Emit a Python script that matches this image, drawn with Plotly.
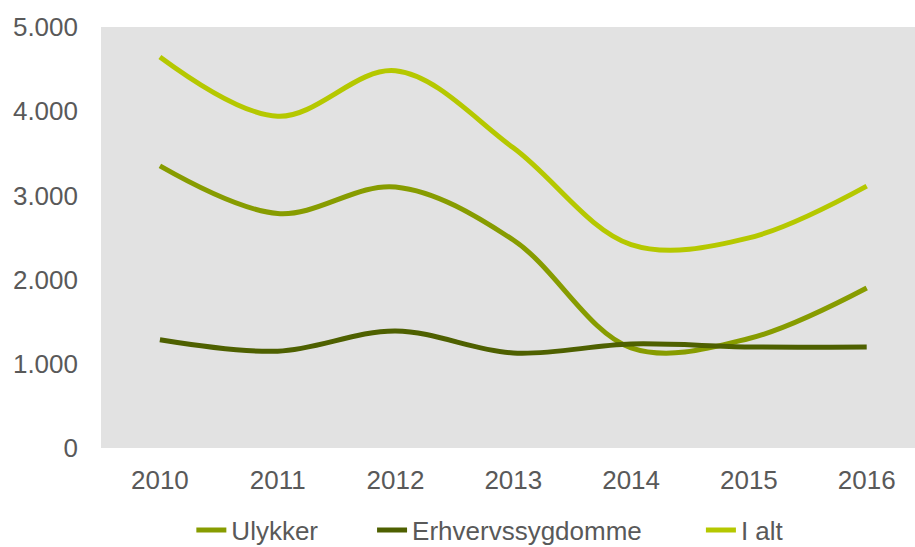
import plotly.graph_objects as go

years = ["2010", "2011", "2012", "2013", "2014", "2015", "2016"]
ulykker = [3350, 2785, 3100, 2470, 1190, 1300, 1900]
erhverv = [1285, 1150, 1390, 1128, 1235, 1200, 1200]
i_alt = [4645, 3940, 4480, 3565, 2415, 2495, 3110]

series = [
    ("Ulykker", ulykker, "#879c00", "legend"),
    ("Erhvervssygdomme", erhverv, "#4e6000", "legend2"),
    ("I alt", i_alt, "#b5c800", "legend3"),
]

fig = go.Figure()
for name, vals, color, leg in series:
    fig.add_trace(go.Scatter(
        x=years, y=vals, name=name, mode="lines", legend=leg,
        line=dict(color=color, width=5, shape="spline", smoothing=1.0),
    ))

font_color = "#595959"
leg_common = dict(
    orientation="h", xanchor="left", y=-0.195, yanchor="middle",
    font=dict(size=26, color=font_color), bgcolor="rgba(0,0,0,0)",
)
fig.update_layout(
    width=915, height=547,
    margin=dict(l=101, r=0, t=27, b=99, autoexpand=False),
    paper_bgcolor="white",
    plot_bgcolor="#e2e2e2",
    separators=",.",
    font=dict(family="Liberation Sans, Arial, sans-serif", color=font_color, size=26),
    xaxis=dict(
        type="category", range=[-0.5, 6.41], showgrid=False, zeroline=False,
        showline=False, ticks="", ticklabelstandoff=14,
        tickfont=dict(size=26, color=font_color),
    ),
    yaxis=dict(
        range=[0, 5000], dtick=1000, tickformat=",", showgrid=False,
        zeroline=False, showline=False, ticks="", ticklabelstandoff=22,
        tickfont=dict(size=26, color=font_color),
    ),
    legend=dict(x=0.111, **leg_common),
    legend2=dict(x=0.333, **leg_common),
    legend3=dict(x=0.737, **leg_common),
    showlegend=True,
)

fig.write_html(
    "out.html",
    config={"displayModeBar": False},
    post_script="document.body.style.margin='0';document.body.style.overflow='hidden';",
)
